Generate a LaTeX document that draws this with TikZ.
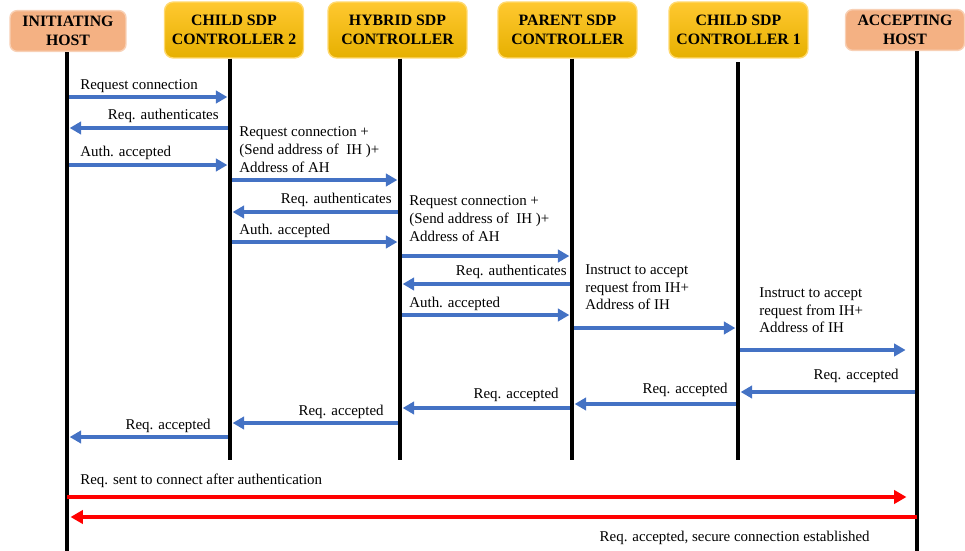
\documentclass[tikz,border=0pt]{standalone}
\usepackage{fontspec}
\setmainfont{Liberation Serif}
\usetikzlibrary{arrows.meta,positioning,shapes}

\definecolor{msgblue}{HTML}{4472C4}
\definecolor{hostfill}{HTML}{F4B183}
\definecolor{ctrltop}{HTML}{FFC830}
\definecolor{ctrlbot}{HTML}{E6B000}
\definecolor{okred}{HTML}{FF0000}

\tikzset{
  hostbox/.style={draw=hostfill!60!white, fill=hostfill, line width=0.8pt,
    rounded corners=4pt, align=center, font=\bfseries\fontsize{9}{10.5}\selectfont},
  ctrlbox/.style={draw=ctrltop!70!white, top color=ctrltop, bottom color=ctrlbot,
    line width=0.8pt, rounded corners=5pt, align=center,
    minimum width=2.78cm, minimum height=1.12cm,
    font=\bfseries\fontsize{9}{10.5}\selectfont},
  life/.style={line width=2pt, black},
  msg/.style={line width=2pt, msgblue, -{Triangle[length=6.5pt,width=7pt]},
    shorten >=1.5pt, shorten <=1pt},
  secure/.style={line width=2.2pt, okred, -{Triangle[length=7pt,width=7.5pt]}},
  lbl/.style={inner sep=0pt, font=\fontsize{8.5}{10.2}\selectfont, align=left}
}

\begin{document}
\begin{tikzpicture}[x=0.02cm, y=-0.02cm]
\useasboundingbox (0,0) rectangle (965,551);

% participants
\node[hostbox, minimum width=2.32cm, minimum height=0.76cm] (ih) at (68,31) {INITIATING\\HOST};
\node[ctrlbox] (csc2) at (234,30) {CHILD SDP\\CONTROLLER 2};
\node[ctrlbox] (hsc) at (397.5,30) {HYBRID SDP\\CONTROLLER};
\node[ctrlbox] (psc) at (567.5,30) {PARENT SDP\\CONTROLLER};
\node[ctrlbox] (csc1) at (738.5,30) {CHILD SDP\\CONTROLLER 1};
\node[hostbox, minimum width=2.38cm, minimum height=0.8cm] (ah) at (905,30) {ACCEPTING\\HOST};

% lifelines
\coordinate (lih) at (67,0);
\coordinate (lcsc2) at (230,0);
\coordinate (lhsc) at (400,0);
\coordinate (lpsc) at (572,0);
\coordinate (lcsc1) at (738,0);
\coordinate (lah) at (917,0);

\draw[life] (lih |- ih.south) -- (lih |- 0,551);
\draw[life] (lcsc2 |- csc2.south) -- (lcsc2 |- 0,460);
\draw[life] (lhsc |- hsc.south) -- (lhsc |- 0,460);
\draw[life] (lpsc |- psc.south) -- (lpsc |- 0,460);
\draw[life] (lcsc1 |- 0,62) -- (lcsc1 |- 0,460);
\draw[life] (lah |- ah.south) -- (lah |- 0,551);

% authentication with child controller 2
\draw[msg] (lih |- 0,97) -- (lcsc2 |- 0,97);
\node[lbl, anchor=base west] (t1) at (80,90) {Request connection};
\draw[msg] (lcsc2 |- 0,128) -- (lih |- 0,128);
\node[lbl, anchor=base east] (t2) at (219,119) {Req. authenticates};
\draw[msg] (lih |- 0,165) -- (lcsc2 |- 0,165);
\node[lbl, anchor=base west] (t3) at (80,156) {Auth. accepted};

% towards hybrid controller
\draw[msg] (lcsc2 |- 0,180) -- (lhsc |- 0,180);
\node[lbl, anchor=north west] (t4) at (239,126) {Request connection +\\(Send address of\ \ IH )+\\Address of AH};
\draw[msg] (lhsc |- 0,212) -- (lcsc2 |- 0,212);
\node[lbl, anchor=base east] (t5) at (392,203) {Req. authenticates};
\draw[msg] (lcsc2 |- 0,242) -- (lhsc |- 0,242);
\node[lbl, anchor=base west] (t6) at (239,234) {Auth. accepted};

% towards parent controller
\draw[msg] (lhsc |- 0,256) -- (lpsc |- 0,256);
\node[lbl, anchor=north west] (t7) at (409,195) {Request connection +\\(Send address of\ \ IH )+\\Address of AH};
\draw[msg] (lpsc |- 0,284) -- (lhsc |- 0,284);
\node[lbl, anchor=base east] (t8) at (567,275) {Req. authenticates};
\draw[msg] (lhsc |- 0,315) -- (lpsc |- 0,315);
\node[lbl, anchor=base west] (t9) at (409,307) {Auth. accepted};

% instructions down to accepting host
\draw[msg] (lpsc |- 0,328) -- (lcsc1 |- 0,328);
\node[lbl, anchor=north west] (t10) at (585,264) {Instruct to accept\\request from IH+\\Address of IH};
\draw[msg] (lcsc1 |- 0,350) -- ([xshift=-5pt]lah |- 0,350);
\node[lbl, anchor=north west] (t11) at (759,287) {Instruct to accept\\request from IH+\\Address of IH};

% acceptance back to initiating host
\draw[msg] (lah |- 0,392) -- (lcsc1 |- 0,392);
\node[lbl, anchor=base east] (t12) at (899,379) {Req. accepted};
\draw[msg] (lcsc1 |- 0,404) -- (lpsc |- 0,404);
\node[lbl, anchor=base east] (t13) at (728,393) {Req. accepted};
\draw[msg] (lpsc |- 0,408) -- (lhsc |- 0,408);
\node[lbl, anchor=base east] (t14) at (559,398) {Req. accepted};
\draw[msg] (lhsc |- 0,423) -- (lcsc2 |- 0,423);
\node[lbl, anchor=base east] (t15) at (384,415) {Req. accepted};
\draw[msg] (lcsc2 |- 0,437) -- (lih |- 0,437);
\node[lbl, anchor=base east] (t16) at (211,429) {Req. accepted};

% secure connection
\draw[secure] (lih |- 0,497) -- ([xshift=-6pt]lah |- 0,497);
\node[lbl, anchor=base west] (t17) at (80,484) {Req. sent to connect after authentication};
\draw[secure] (lah |- 0,517) -- ([xshift=2pt]lih |- 0,517);
\node[lbl, anchor=base east] (t18) at (870,541) {Req. accepted, secure connection established};
\end{tikzpicture}
\end{document}
